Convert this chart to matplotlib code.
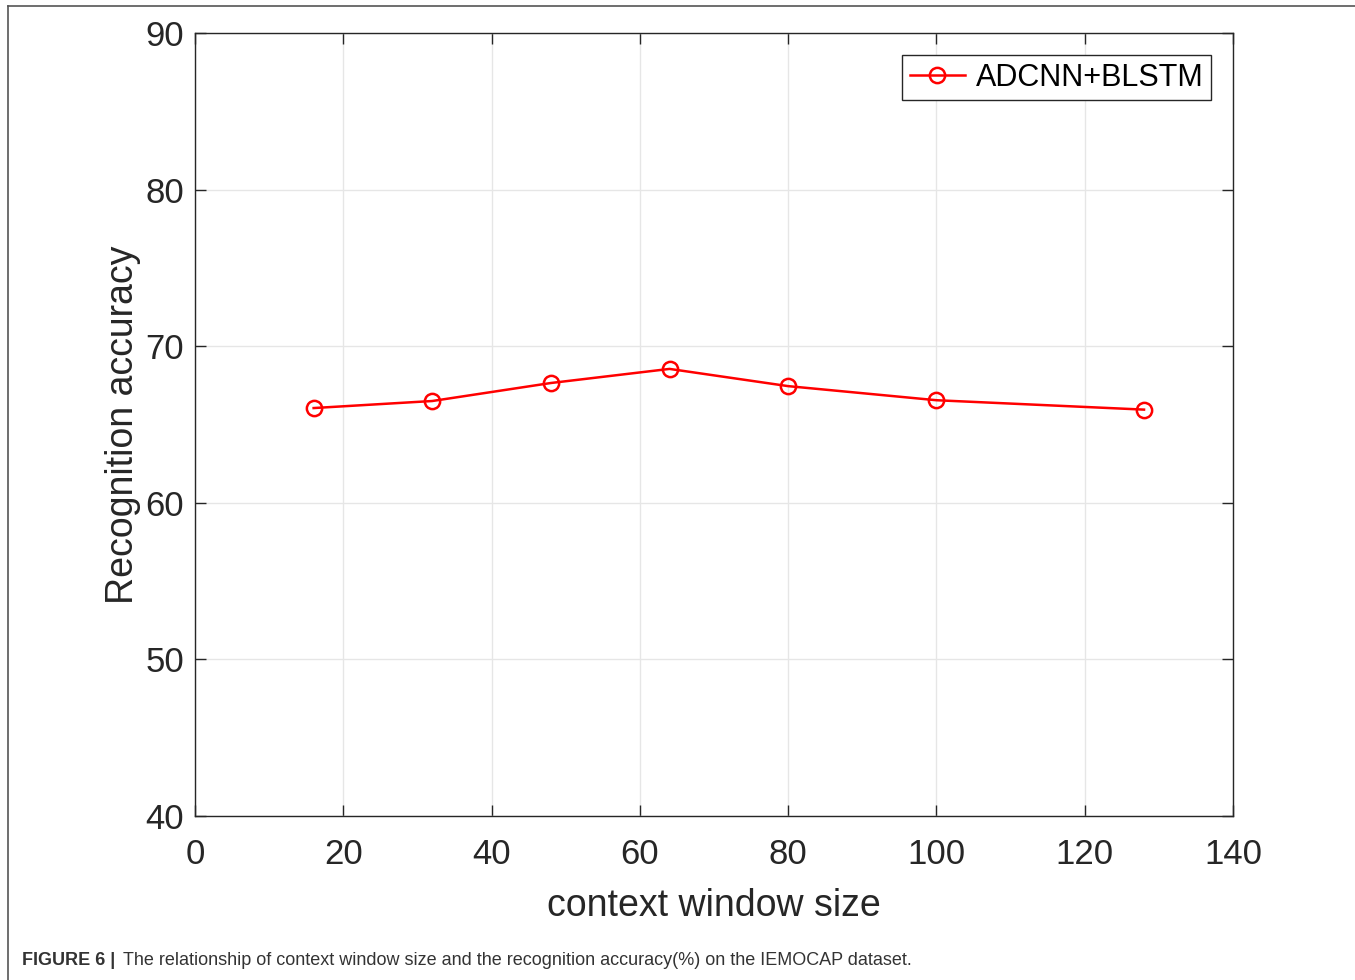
import matplotlib
matplotlib.use("Agg")
import matplotlib.pyplot as plt
from matplotlib.lines import Line2D

plt.rcParams['font.family'] = ['Liberation Sans', 'DejaVu Sans']

window_sizes = [16, 32, 48, 64, 80, 100, 128]
accuracy = [66.05, 66.5, 67.65, 68.55, 67.45, 66.55, 65.95]
series_label = "ADCNN+BLSTM"
x_ticks = [0, 20, 40, 60, 80, 100, 120, 140]
y_ticks = [40, 50, 60, 70, 80, 90]

W, H = 1355, 980
fig = plt.figure(figsize=(W / 100, H / 100), dpi=100)
ax = fig.add_axes([195 / W, 1 - 816 / H, (1233 - 195) / W, (816 - 33) / H])

ax.plot(window_sizes, accuracy, color='#ff0000', lw=1.8, marker='o',
        markersize=11, markerfacecolor='none', markeredgecolor='#ff0000',
        markeredgewidth=1.8, label=series_label, zorder=3)

ax.set_xlim(0, 140)
ax.set_ylim(40, 90)
ax.set_xticks(x_ticks)
ax.set_yticks(y_ticks)
ax.tick_params(direction='in', top=True, right=True, length=8, width=1,
               labelsize=25, colors='#262626')
ax.tick_params(axis='x', pad=16)
ax.tick_params(axis='y', pad=8)
ax.grid(True, color='#e6e6e6', lw=1)
ax.set_axisbelow(True)
for s in ax.spines.values():
    s.set_color('#262626')
    s.set_linewidth(1)

ax.set_xlabel('context window size', fontsize=27, color='#262626', labelpad=12)
ax.set_ylabel('Recognition accuracy', fontsize=27, color='#262626', labelpad=3)

leg = ax.legend(loc='upper right', fontsize=22, frameon=True, fancybox=False,
                edgecolor='#262626', framealpha=1, handlelength=1.8,
                handletextpad=0.35, borderpad=0.25,
                bbox_to_anchor=(1211 / 1038 - 195 / 1038, 1 - 22 / 783), borderaxespad=0)
leg.get_frame().set_linewidth(1)

# outer frame lines
fig.add_artist(Line2D([8 / W, 1.0], [1 - 6 / H, 1 - 6 / H], color='#555555', lw=1.2, transform=fig.transFigure))
fig.add_artist(Line2D([8 / W, 8 / W], [0, 1 - 6 / H], color='#555555', lw=1.2, transform=fig.transFigure))

fig.text(22 / W, 1 - 960 / H, 'FIGURE 6 |', fontsize=13, fontweight='bold',
         color='#333333', va='center', ha='left')
fig.text(123 / W, 1 - 960 / H,
         'The relationship of context window size and the recognition accuracy(%) on the IEMOCAP dataset.',
         fontsize=13, color='#333333', va='center', ha='left')

fig.savefig('out.png', dpi=100)
